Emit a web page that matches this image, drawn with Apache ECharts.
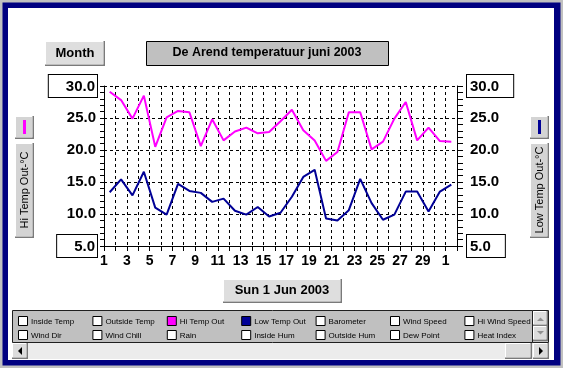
<!DOCTYPE html>
<html><head><meta charset="utf-8">
<script src="https://cdn.jsdelivr.net/npm/echarts@6/dist/echarts.min.js"></script>
<style>html,body{margin:0;padding:0;background:#c0c0c0}#c{width:563px;height:368px}</style>
</head><body><div id="c"></div>
<script>
// ---- data (June 1 .. July 1, 2003), plotted at noon of each day ----
const dayNumbers = [1,2,3,4,5,6,7,8,9,10,11,12,13,14,15,16,17,18,19,20,21,22,23,24,25,26,27,28,29,30,31];
const hiTempOut  = [29.1,27.8,24.9,28.5,20.5,25.1,26.1,25.9,20.6,24.8,21.5,22.9,23.5,22.6,22.8,24.5,26.3,23.1,21.5,18.3,19.7,25.9,25.9,20.1,21.3,24.9,27.5,21.5,23.5,21.4,21.3];
const lowTempOut = [13.4,15.4,12.9,16.6,11.0,9.9,14.7,13.6,13.3,11.9,12.4,10.5,9.9,11.1,9.6,10.2,12.7,15.8,16.9,9.3,9.0,10.6,15.5,11.7,9.1,9.9,13.5,13.5,10.4,13.5,14.6];
const xTickDays   = [1,3,5,7,9,11,13,15,17,19,21,23,25,27,29,31];
const xTickLabels = ['1','3','5','7','9','11','13','15','17','19','21','23','25','27','29','1'];
const yBoxedTicks = [5,30];
const titleText = 'De Arend temperatuur juni 2003';
const dateText = 'Sun 1 Jun 2003';
const legendRow1 = ['Inside Temp','Outside Temp','Hi Temp Out','Low Temp Out','Barometer','Wind Speed','Hi Wind Speed'];
const legendRow2 = ['Wind Dir','Wind Chill','Rain','Inside Hum','Outside Hum','Dew Point','Heat Index'];
const legendChecked = {'Hi Temp Out':'#ff00ff','Low Temp Out':'#000096'};
const HI = '#ff00ff', LO = '#000096';
const NOON = 0.5;

const chart = echarts.init(document.getElementById('c'), null, {renderer:'canvas'});
const FF = '"Liberation Sans", Arial, sans-serif';

function button(x,y,w,h,face){
  return [
    {type:'rect', z:-5, shape:{x:x,y:y,width:w,height:h}, style:{fill:'#7a7a7a'}},
    {type:'rect', z:-5, shape:{x:x,y:y,width:w-1.5,height:h-1.5}, style:{fill:'#ffffff'}},
    {type:'rect', z:-5, shape:{x:x+1,y:y+1,width:w-3,height:h-3}, style:{fill:face||'#dcdcdc'}}
  ];
}
function text(x,y,t,font,extra){
  return Object.assign({type:'text', z:-4, x:x, y:y,
    style:{text:t, font:font, fill:'#000', align:'center', verticalAlign:'middle', textAlign:'center', textVerticalAlign:'middle'}}, extra||{});
}
const g = [];
// window frame
g.push({type:'rect', z:-10, shape:{x:0,y:0,width:563,height:368}, style:{fill:'#c0c0c0'}});
g.push({type:'rect', z:-10, shape:{x:2.5,y:2.5,width:558,height:363}, style:{fill:'#000080'}});
g.push({type:'rect', z:-10, shape:{x:8,y:8,width:546,height:352}, style:{fill:'#ffffff'}});
// Month button
g.push(...button(45,41,60,25,'#dedede'));
g.push(text(75,53,'Month','bold 13px '+FF));
// title box
g.push({type:'rect', z:-5, shape:{x:146.5,y:41.5,width:242,height:24}, style:{fill:'#c0c0c0', stroke:'#000', lineWidth:1}});
g.push(text(267,52.5,titleText,'bold 12.5px '+FF));
// left series buttons
g.push(...button(15,116,19,23,'#d4d4d4'));
g.push({type:'rect', z:-4, shape:{x:23,y:120,width:3,height:14}, style:{fill:HI}});
g.push(...button(15,143,19,95,'#d4d4d4'));
g.push(text(24.5,190,'Hi Temp Out-°C','11px '+FF,{rotation:Math.PI/2}));
// right series buttons
g.push(...button(530,116,19,23,'#d4d4d4'));
g.push({type:'rect', z:-4, shape:{x:538,y:120,width:3,height:14}, style:{fill:LO}});
g.push(...button(530,143,19,95,'#d4d4d4'));
g.push(text(539.5,190,'Low Temp Out-°C','11px '+FF,{rotation:Math.PI/2}));
// date button
g.push(...button(223,279,119,24,'#dedede'));
g.push(text(282,290.5,dateText,'bold 13px '+FF));
// legend panel
g.push({type:'rect', z:-5, shape:{x:12.5,y:310.5,width:520,height:32}, style:{fill:'#c0c0c0', stroke:'#202020', lineWidth:1}});
[legendRow1, legendRow2].forEach(function(row, r){
  row.forEach(function(name, c){
    const bx = 18 + c*74.4, by = 316 + r*14;
    g.push({type:'rect', z:-4, shape:{x:bx+0.5,y:by+0.5,width:9,height:9}, style:{fill:legendChecked[name]||'#fff', stroke:'#000', lineWidth:1}});
    g.push(text(bx+13,by+5.5,name,'8px '+FF,{style:{text:name, font:'8px '+FF, fill:'#000', align:'left', verticalAlign:'middle', textAlign:'left', textVerticalAlign:'middle'}}));
  });
});
// legend vertical scrollbar
g.push({type:'rect', z:-5, shape:{x:532.5,y:310.5,width:16,height:32}, style:{fill:'#c0c0c0', stroke:'#202020', lineWidth:1}});
g.push(...button(533,311,15,15,'#dcdcdc'));
g.push(...button(533,326,15,15,'#dcdcdc'));
g.push({type:'polygon', z:-3, shape:{points:[[537,321],[544,321],[540.5,317.5]]}, style:{fill:'#909090'}});
g.push({type:'polygon', z:-3, shape:{points:[[537,331],[544,331],[540.5,334.5]]}, style:{fill:'#909090'}});
// horizontal scrollbar
g.push({type:'rect', z:-5, shape:{x:12,y:343,width:537,height:16}, style:{fill:'#ececec'}});
g.push(...button(12,343,16,16,'#dcdcdc'));
g.push(...button(533,343,16,16,'#dcdcdc'));
g.push(...button(505,343,27,16,'#dcdcdc'));
g.push({type:'polygon', z:-3, shape:{points:[[22,347],[22,355],[18,351]]}, style:{fill:'#000'}});
g.push({type:'polygon', z:-3, shape:{points:[[539,347],[539,355],[543,351]]}, style:{fill:'#000'}});

function yFmt(v){
  const s = v.toFixed(1);
  return yBoxedTicks.indexOf(v) >= 0 ? '{b|' + s + '}' : '{n|' + s + '}';
}
const labelFont = {fontFamily:FF, fontWeight:'bold', fontSize:15, color:'#000'};
function yAxis(pos){
  const left = pos === 'left';
  return {
    type:'value', position:pos, min:5, max:30, interval:5,
    axisLine:{show:true, onZero:false, lineStyle:{color:'#000', width:1}},
    axisTick:{show:true, length:left?4:6, lineStyle:{color:'#000'}},
    minorTick:{show:true, splitNumber:5, length:left?4:6, lineStyle:{color:'#000'}},
    splitLine:{show:left, lineStyle:{color:'#000', type:[3,3], width:1}},
    axisLabel:{margin:left?7:10, formatter:yFmt, rich:{
      b:Object.assign({backgroundColor:'#fff', borderColor:'#000', borderWidth:1, padding:left?[4,2,3,17]:[4,14,3,3]}, labelFont),
      n:Object.assign({padding:left?[0,1,0,0]:[0,0,0,3]}, labelFont)
    }}
  };
}

const option = {
  animation:false,
  backgroundColor:'transparent',
  graphic:{elements:g},
  grid:{left:104, right:106, top:86, bottom:122},
  xAxis:{
    type:'value', min:1, max:32, interval:1,
    axisLine:{onZero:false, lineStyle:{color:'#000', width:1}},
    axisTick:{length:5, lineStyle:{color:'#000'}},
    splitLine:{show:true, lineStyle:{color:'#000', type:[3,3], width:1}},
    axisLabel:Object.assign({margin:8, fontSize:14, showMinLabel:true, showMaxLabel:true,
      formatter:function(v){ const i = xTickDays.indexOf(v); return i>=0 ? xTickLabels[i] : ''; }}, {fontFamily:FF, fontWeight:'bold', color:'#000'})
  },
  yAxis:[yAxis('left'), yAxis('right')],
  series:[
    {name:'Hi Temp Out', type:'line', yAxisIndex:0, showSymbol:false, symbol:'none',
     lineStyle:{color:HI, width:2}, itemStyle:{color:HI},
     data:dayNumbers.map(function(d,i){return [d+NOON, hiTempOut[i]];})},
    {name:'Low Temp Out', type:'line', yAxisIndex:1, showSymbol:false, symbol:'none',
     lineStyle:{color:LO, width:2}, itemStyle:{color:LO},
     data:dayNumbers.map(function(d,i){return [d+NOON, lowTempOut[i]];})}
  ]
};
chart.setOption(option);
</script></body></html>
